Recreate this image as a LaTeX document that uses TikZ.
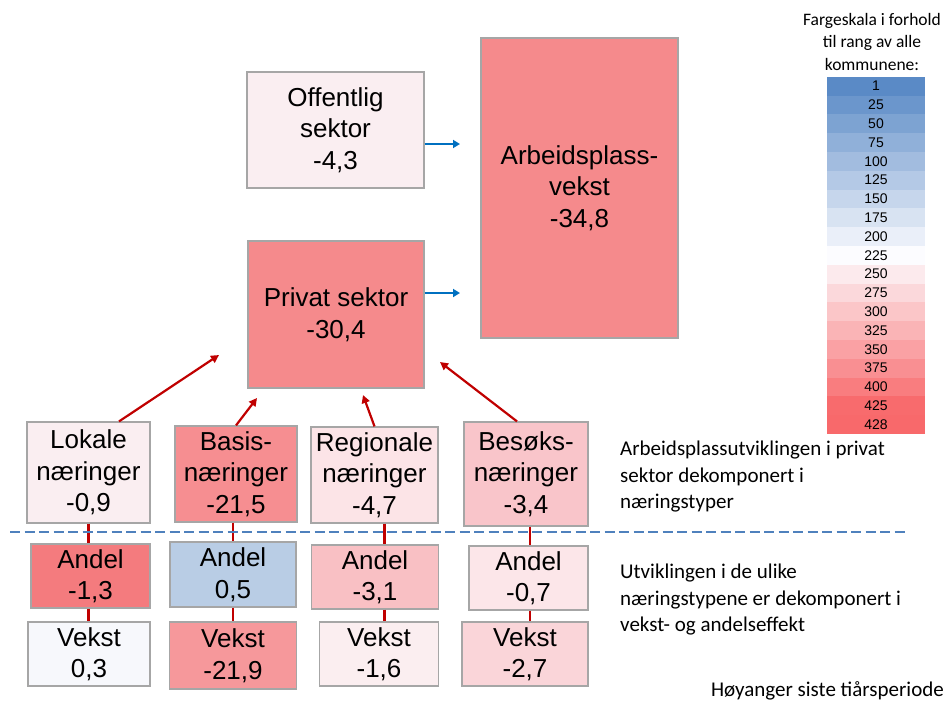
\documentclass[tikz,border=0pt]{standalone}
\usepackage{fontspec}
\setmainfont{Liberation Sans}
\newfontfamily\notefont{Carlito}
\usetikzlibrary{arrows.meta}

\definecolor{boxgray}{HTML}{A6A6A6}
\definecolor{arrowred}{HTML}{C00000}
\definecolor{arrowblue}{HTML}{0070C0}
\definecolor{dashblue}{HTML}{4F81BD}
\definecolor{scblue}{HTML}{5A8AC6}
\definecolor{scwhite}{HTML}{FCFCFF}
\definecolor{scred}{HTML}{F8696B}
\definecolor{offentligC}{HTML}{FAEEF1}
\definecolor{totalC}{HTML}{F58A8C}
\definecolor{lokaleC}{HTML}{FAEEF1}
\definecolor{basisC}{HTML}{F68E91}
\definecolor{regionalC}{HTML}{FCE4E7}
\definecolor{besokC}{HTML}{F9C5CA}
\definecolor{andelLC}{HTML}{F47B7E}
\definecolor{andelBC}{HTML}{B9CDE5}
\definecolor{andelRC}{HTML}{F9C0C4}
\definecolor{andelSC}{HTML}{FCE6E9}
\definecolor{vekstLC}{HTML}{F7F8FC}
\definecolor{vekstBC}{HTML}{F6989B}
\definecolor{vekstRC}{HTML}{FBEEF0}
\definecolor{vekstSC}{HTML}{FAD5D9}

\begin{document}
\begin{tikzpicture}[x=1pt, y=-1pt,
  box/.style={draw=boxgray, line width=1.2pt, align=center, inner sep=0pt,
    font=\fontsize{26}{31.5}\selectfont},
  cell/.style={minimum width=98pt, minimum height=18.8pt, inner sep=0pt,
    font=\fontsize{14}{16}\selectfont},
  note/.style={align=left, inner sep=0pt, font=\notefont\fontsize{21}{26.5}\selectfont},
  redarrow/.style={arrowred, line width=2.2pt, -{Triangle[length=8pt,width=8pt]}},
  bluearrow/.style={arrowblue, line width=2.4pt, -{Triangle[length=7pt,width=8pt]}},
  redline/.style={arrowred, line width=2.4pt}]
\useasboundingbox (0,0) rectangle (946,702);

% sektorer
\node[box, fill=offentligC, minimum width=177pt, minimum height=116pt] (offentlig) at (335.5,130) {Offentlig\\sektor\\-4,3};
\node[box, fill=totalC, minimum width=176pt, minimum height=147pt] (privat) at (336,314.5) {Privat sektor\\-30,4};
\node[box, fill=totalC, minimum width=197pt, minimum height=300pt] (arbeid) at (579.5,188) {Arbeidsplass-\\vekst\\-34,8};

\coordinate (inA) at (460,144);
\coordinate (inB) at (460,293);
\draw[bluearrow] (offentlig.east |- inA) -- (inA);
\draw[bluearrow] (privat.east |- inB) -- (inB);

% naeringstyper
\node[box, fill=lokaleC, minimum width=123pt, minimum height=101pt] (lokale) at (88.5,472.5) {Lokale\\næringer\\-0,9};
\node[box, fill=basisC, minimum width=122pt, minimum height=96pt] (basis) at (236,474) {Basis-\\næringer\\-21,5};
\node[box, fill=regionalC, minimum width=127pt, minimum height=96pt] (regional) at (374.5,475) {Regionale\\næringer\\-4,7};
\node[box, fill=besokC, minimum width=124pt, minimum height=104pt] (besok) at (526,474) {Besøks-\\næringer\\-3,4};

\coordinate (tipL) at (219,355);
\coordinate (tipB) at (257,398);
\coordinate (tipR) at (363,395);
\coordinate (tipS) at (440,362);
\draw[redarrow] ([xshift=30.5pt]lokale.north) -- (tipL);
\draw[redarrow] (basis.north) -- (tipB);
\draw[redarrow] (regional.north) -- (tipR);
\draw[redarrow] ([xshift=-9pt]besok.north) -- (tipS);

% andel og vekst
\node[box, fill=andelLC, minimum width=119pt, minimum height=64pt] (andelL) at (90.5,576) {Andel\\-1,3};
\node[box, fill=andelBC, minimum width=126pt, minimum height=65pt] (andelB) at (233,574.5) {Andel\\0,5};
\node[box, fill=andelRC, minimum width=127pt, minimum height=64pt] (andelR) at (375,577) {Andel\\-3,1};
\node[box, fill=andelSC, minimum width=119pt, minimum height=64pt] (andelS) at (528.5,578) {Andel\\-0,7};

\node[box, fill=vekstLC, minimum width=122pt, minimum height=64pt] (vekstL) at (89,654) {Vekst\\0,3};
\node[box, fill=vekstBC, minimum width=127pt, minimum height=67pt] (vekstB) at (233,655.5) {Vekst\\-21,9};
\node[box, fill=vekstRC, minimum width=119pt, minimum height=64pt] (vekstR) at (379,654) {Vekst\\-1,6};
\node[box, fill=vekstSC, minimum width=126pt, minimum height=64pt] (vekstS) at (525,654) {Vekst\\-2,7};

\draw[redline] (lokale.south) -- (lokale.south |- andelL.north);
\draw[redline] (lokale.south |- andelL.south) -- (lokale.south |- vekstL.north);
\draw[redline] (andelB.north |- basis.south) -- (andelB.north);
\draw[redline] (andelB.south) -- (vekstB.north);
\draw[redline] ([xshift=10pt]regional.south) -- ([xshift=10pt]regional.south |- andelR.north);
\draw[redline] ([xshift=10pt]regional.south |- andelR.south) -- ([xshift=10pt]regional.south |- vekstR.north);
\draw[redline] ([xshift=4pt]besok.south) -- ([xshift=4pt]besok.south |- andelS.north);
\draw[redline] ([xshift=4pt]besok.south |- andelS.south) -- ([xshift=4pt]besok.south |- vekstS.north);

\draw[dashblue, line width=2.6pt, dash pattern=on 10pt off 4.5pt] (10,532) -- (908,532);

% tekster
\node[note, anchor=north west] (tekstA) at (620,441) {Arbeidsplassutviklingen i privat\\sektor dekomponert i\\næringstyper};
\node[note, anchor=north west] (tekstB) at (620,564) {Utviklingen i de ulike\\næringstypene er dekomponert i\\vekst- og andelseffekt};
\node[note, anchor=base east] (sted) at (944,696) {Høyanger siste tiårsperiode};

% fargeskala
\node[align=center, inner sep=0pt, anchor=north, font=\notefont\fontsize{17.5}{22.5}\selectfont] (skalatittel) at (872,13) {Fargeskala i forhold\\til rang av alle\\kommunene:};
\foreach \r [count=\i from 0] in {1,25,50,75,100,125,150,175,200,225,250,275,300,325,350,375,400,425,428} {
  \pgfmathsetmacro\pb{min(100,(\r-1)*0.4464)}
  \pgfmathsetmacro\pr{max(0,(\r-225)*0.4926)}
  \colorlet{mixA}{scwhite!\pb!scblue}
  \colorlet{mixB}{scred!\pr!mixA}
  \node[cell, fill=mixB] (rang\i) at (876,{86.1+18.8*\i}) {\r};
}
\end{tikzpicture}
\end{document}
